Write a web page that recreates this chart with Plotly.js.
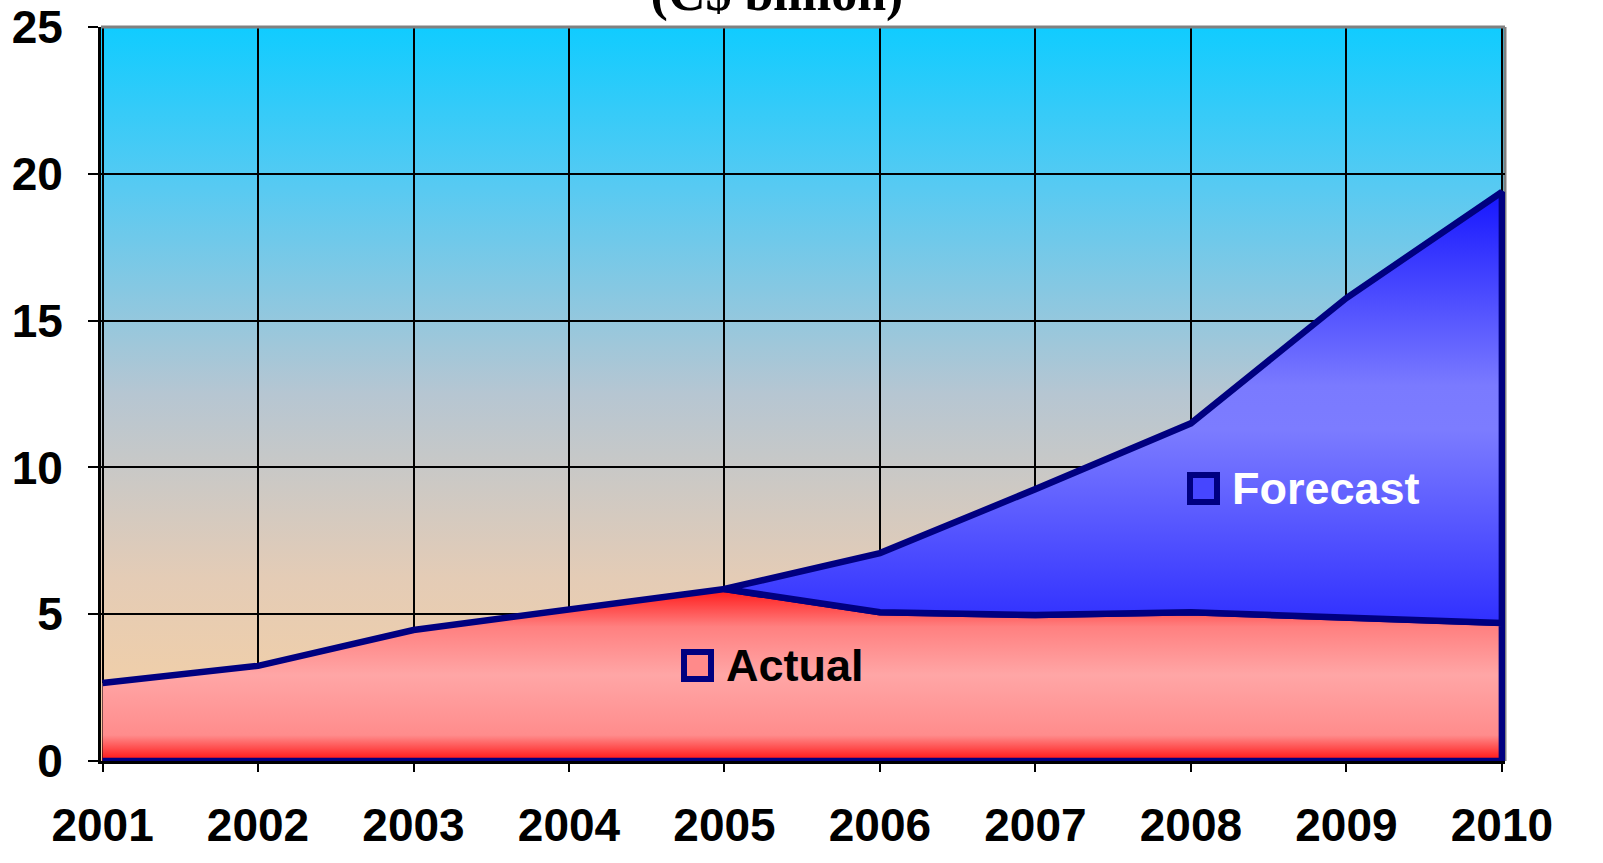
<!DOCTYPE html>
<html>
<head>
<meta charset="utf-8">
<script src="https://cdn.plot.ly/plotly-3.0.1.min.js"></script>
<style>html,body{margin:0;padding:0;background:#fff;}#chart{width:1603px;height:863px;}</style>
</head>
<body>
<div id="chart"></div>
<script>
// ---- data ----
const years = [2001, 2002, 2003, 2004, 2005, 2006, 2007, 2008, 2009, 2010];
const actual = [2.66, 3.24, 4.46, 5.18, 5.86, 5.07, 4.97, 5.07, 4.90, 4.70];
const forecastYears = [2005, 2006, 2007, 2008, 2009, 2010];
const forecast = [5.86, 7.08, 9.26, 11.5, 15.77, 19.38];
const yTicks = [0, 5, 10, 15, 20, 25];
const seriesNames = ['Actual', 'Forecast'];
const titleText = '(C$ billion)';

// ---- polygons built from data ----
const actX = years.concat([years[years.length - 1], years[0]]);
const actY = actual.concat([0, 0]);
const startIdx = years.indexOf(forecastYears[0]);
const baseX = years.slice(startIdx).reverse();
const baseY = actual.slice(startIdx).reverse();
const fcX = forecastYears.concat(baseX);
const fcY = forecast.concat(baseY);

const navy = '#000080';

const traces = [
  {
    x: actX, y: actY, type: 'scatter', mode: 'lines', fill: 'toself', name: seriesNames[0],
    line: {color: navy, width: 6.5},
    fillgradient: {type: 'vertical', colorscale: [[0, '#ff1010'], [0.15, '#ff8c8c'], [0.5, '#ffa6a6'], [0.78, '#ff8080'], [1, '#ff1818']]},
    showlegend: false, hoverinfo: 'skip'
  },
  {
    x: fcX, y: fcY, type: 'scatter', mode: 'lines', fill: 'toself', name: seriesNames[1],
    line: {color: navy, width: 6.5},
    fillgradient: {type: 'vertical', colorscale: [[0, '#3030ff'], [0.45, '#7c7cff'], [0.55, '#7a7aff'], [1, '#1616ff']]},
    showlegend: false, hoverinfo: 'skip'
  }
];

const bgSvg = '<svg xmlns="http://www.w3.org/2000/svg" width="100" height="100" viewBox="0 0 100 100" preserveAspectRatio="none">' +
  '<defs><linearGradient id="g" x1="0" y1="0" x2="0" y2="1">' +
  '<stop offset="0" stop-color="#10ccff"/><stop offset="0.22" stop-color="#58caf2"/>' +
  '<stop offset="0.5" stop-color="#b6c6d2"/><stop offset="0.75" stop-color="#e4ccb6"/>' +
  '<stop offset="1" stop-color="#f8d0a0"/></linearGradient></defs>' +
  '<rect x="0" y="0" width="100" height="100" fill="url(#g)"/></svg>';

const W = 1603, H = 863, L = 101, R = 98, T = 27, B = 102;
const pw = W - L - R, ph = H - T - B;
const px = v => (v - L) / pw;
const py = v => (H - B - v) / ph;

const labelFont = {family: 'Liberation Sans, Arial, sans-serif', size: 46, color: '#000', weight: 'bold'};

const layout = {
  width: W, height: H,
  margin: {l: L, r: R, t: T, b: B},
  paper_bgcolor: '#ffffff',
  plot_bgcolor: 'rgba(0,0,0,0)',
  showlegend: false,
  title: {
    text: titleText,
    font: {family: 'Liberation Serif, Times New Roman, serif', size: 52, color: '#000', weight: 'bold'},
    x: 777 / W, xanchor: 'center', y: 1 - 10 / H, yanchor: 'bottom'
  },
  xaxis: {
    range: [2000.99, 2010.02],
    tickvals: years, ticktext: years.map(String),
    showgrid: true, gridcolor: '#000', gridwidth: 2,
    showline: true, linecolor: '#000', linewidth: 3,
    ticks: 'outside', ticklen: 8, tickwidth: 2, tickcolor: '#000',
    ticklabelstandoff: 14,
    tickfont: labelFont,
    zeroline: false, fixedrange: true
  },
  yaxis: {
    range: [0, 25],
    tickvals: yTicks,
    showgrid: true, gridcolor: '#000', gridwidth: 2,
    showline: true, linecolor: '#000', linewidth: 3,
    ticks: 'outside', ticklen: 10, tickwidth: 2, tickcolor: '#000',
    ticklabelstandoff: 16,
    tickfont: labelFont,
    zeroline: false, fixedrange: true
  },
  images: [{
    source: 'data:image/svg+xml;charset=utf-8,' + encodeURIComponent(bgSvg),
    xref: 'paper', yref: 'paper', x: 0, y: 1, sizex: 1, sizey: 1,
    xanchor: 'left', yanchor: 'top', sizing: 'stretch', layer: 'below'
  }],
  shapes: [
    {type: 'line', xref: 'paper', yref: 'paper', x0: 0, x1: 1, y0: 1, y1: 1, line: {color: '#808080', width: 3}, layer: 'above'},
    {type: 'line', xref: 'paper', yref: 'paper', x0: 1, x1: 1, y0: 0, y1: 1, line: {color: '#808080', width: 3}, layer: 'below'}
  ],
  annotations: [
    {xref: 'paper', yref: 'paper', x: px(697), y: py(665), xanchor: 'center', yanchor: 'middle', text: ' ', showarrow: false,
      width: 21, height: 21, bgcolor: '#ff8a8a', bordercolor: navy, borderwidth: 6, borderpad: 0},
    {xref: 'paper', yref: 'paper', x: px(724), y: py(665), xanchor: 'left', yanchor: 'middle', text: '<b>' + seriesNames[0] + '</b>', showarrow: false,
      font: {family: 'Liberation Sans, Arial, sans-serif', size: 45, color: '#000'}},
    {xref: 'paper', yref: 'paper', x: px(1203), y: py(488), xanchor: 'center', yanchor: 'middle', text: ' ', showarrow: false,
      width: 21, height: 21, bgcolor: '#4646ff', bordercolor: navy, borderwidth: 6, borderpad: 0},
    {xref: 'paper', yref: 'paper', x: px(1230), y: py(488), xanchor: 'left', yanchor: 'middle', text: '<b>' + seriesNames[1] + '</b>', showarrow: false,
      font: {family: 'Liberation Sans, Arial, sans-serif', size: 45, color: '#ffffff'}}
  ]
};

Plotly.newPlot('chart', traces, layout, {displayModeBar: false, staticPlot: true});
</script>
</body>
</html>
